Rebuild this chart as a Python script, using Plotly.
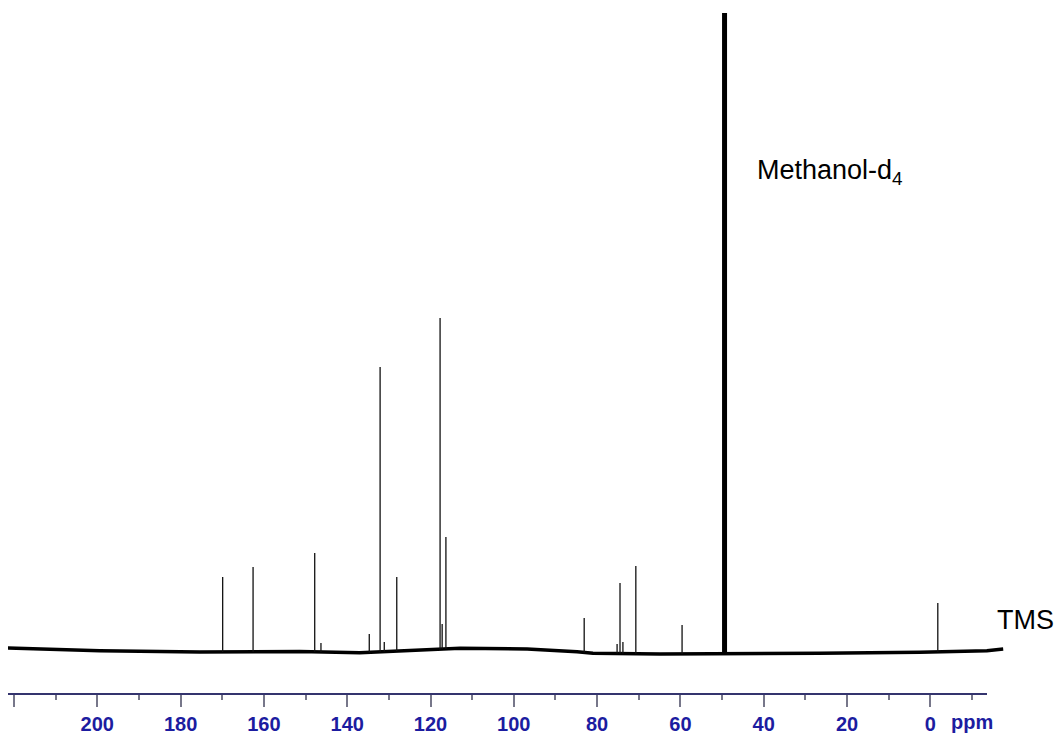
import numpy as np
import plotly.graph_objects as go

# ---- data (ppm, intensity in arbitrary units) ----
baseline_ppm = [223.0, 221.4, 199.4, 175.4, 151.4, 137.0, 112.9, 96.8, 84.8, 81.0, 64.9, 48.1, 26.5, 2.5, -13.6, -17.5]
baseline_int = [6.0, 6.0, 3.3, 2.0, 2.5, 1.3, 5.7, 5.0, 2.3, 0.7, 0.0, 0.0, 0.7, 1.7, 3.3, 5.0]

peak_ppm = [169.9, 162.6, 147.8, 146.3, 134.7, 132.1, 131.1, 128.1, 117.7, 117.2, 116.3,
            83.1, 75.2, 74.5, 73.8, 70.7, 59.6, -1.8]
peak_int = [77, 87, 101, 11, 20, 287, 12, 77, 336, 30, 117,
            36, 10, 71, 12, 88, 29, 51]

solvent_ppm = [49.4]
solvent_int = [641]

major_ticks = [220, 200, 180, 160, 140, 120, 100, 80, 60, 40, 20, 0]
major_labels = ["", "200", "180", "160", "140", "120", "100", "80", "60", "40", "20", "0"]
minor_ticks = [210, 190, 170, 150, 130, 110, 90, 70, 50, 30, 10, -10]

# ---- build traces ----
def spikes(pos, hts):
    xs, ys = [], []
    for p, h in zip(pos, hts):
        b = float(np.interp(-p, [-v for v in baseline_ppm], baseline_int))
        xs += [p, p, None]
        ys += [b, h, None]
    return xs, ys

fig = go.Figure()

fig.add_trace(go.Scatter(x=baseline_ppm, y=baseline_int, mode="lines",
                         line=dict(color="black", width=3.4), xaxis="x", yaxis="y",
                         hoverinfo="skip", showlegend=False))

px_, py_ = spikes(peak_ppm, peak_int)
fig.add_trace(go.Scatter(x=px_, y=py_, mode="lines", line=dict(color="#111111", width=1.3),
                         xaxis="x2", yaxis="y", hoverinfo="skip", showlegend=False))

sx, sy = spikes(solvent_ppm, solvent_int)
fig.add_trace(go.Scatter(x=sx, y=sy, mode="lines", line=dict(color="black", width=5),
                         xaxis="x2", yaxis="y", hoverinfo="skip", showlegend=False))

# page body has an 8px margin; figure sized to fill the rest of the window
W, H = 1054, 726
px_per_ppm = 4.165
zero_px = 922.3
ax_left, ax_right = 0, 979
plot_bottom = 685

FONT = "Liberation Sans, Arial"
fig.update_layout(
    width=W, height=H,
    margin=dict(l=0, r=0, t=0, b=H - plot_bottom, autoexpand=False),
    paper_bgcolor="white", plot_bgcolor="rgba(0,0,0,0)",
    showlegend=False,
    xaxis=dict(domain=[0, 1], range=[zero_px / px_per_ppm, (zero_px - W) / px_per_ppm],
               visible=False, showgrid=False, zeroline=False, anchor="y", automargin=False),
    xaxis2=dict(domain=[ax_left / W, ax_right / W],
                range=[(zero_px - ax_left) / px_per_ppm, (zero_px - ax_right) / px_per_ppm],
                anchor="y", showgrid=False, zeroline=False, automargin=False,
                showline=True, linecolor="#34346e", linewidth=1.5,
                tickmode="array", tickvals=major_ticks, ticktext=major_labels,
                ticks="outside", ticklen=12, tickwidth=1.5, tickcolor="#77778a",
                tickfont=dict(family=FONT, size=20, color="#1c1ca0", weight="bold"),
                ticklabelstandoff=0,
                minor=dict(tickmode="array", tickvals=minor_ticks, ticks="outside",
                           ticklen=5, tickwidth=1.5, tickcolor="#77778a", showgrid=False)),
    yaxis=dict(domain=[0, 1], range=[-39, plot_bottom - 39], visible=False, showgrid=False,
               zeroline=False, anchor="x", automargin=False),
)

fig.add_annotation(xref="paper", yref="paper", x=964 / W, y=(plot_bottom - 714) / plot_bottom,
                   text="<b>ppm</b>", showarrow=False, xanchor="center", yanchor="middle",
                   font=dict(family=FONT, size=20, color="#1c1ca0"))

fig.add_annotation(xref="x2", yref="y", x=(zero_px - 747) / px_per_ppm, y=482,
                   text="Methanol-d<sub>4</sub>", showarrow=False, xanchor="left", yanchor="middle",
                   font=dict(family=FONT, size=27, color="black"))

fig.add_annotation(xref="paper", yref="paper", x=1017 / W, y=(plot_bottom - 612) / plot_bottom,
                   text="TMS", showarrow=False, xanchor="center", yanchor="middle",
                   font=dict(family=FONT, size=27, color="black"))

fig.write_html("out.html")
